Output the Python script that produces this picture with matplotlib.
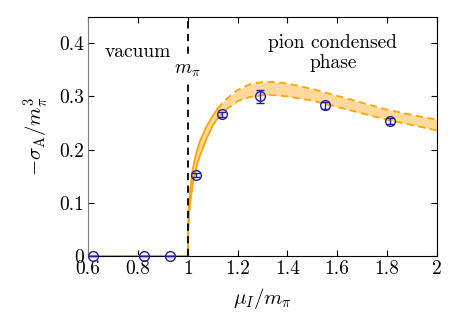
import matplotlib
matplotlib.use("Agg")
import matplotlib.pyplot as plt
import numpy as np

plt.rcParams['font.family'] = 'serif'
plt.rcParams['font.serif'] = ['cmr10']
plt.rcParams['mathtext.fontset'] = 'cm'
plt.rcParams['axes.formatter.use_mathtext'] = True

# lattice data points
mu_pts = [0.62, 0.825, 0.93, 1.035, 1.137, 1.29, 1.55, 1.81]
sig_pts = [0.0, 0.0, 0.0, 0.152, 0.266, 0.300, 0.283, 0.254]
err_pts = [0.0, 0.0, 0.0, 0.004, 0.005, 0.012, 0.006, 0.005]

# band (chiral perturbation theory)
mu_band = [1.0, 1.002, 1.005, 1.01, 1.02, 1.035, 1.05, 1.075, 1.1, 1.12, 1.15, 1.2, 1.25,
           1.3, 1.35, 1.4, 1.5, 1.6, 1.7, 1.8, 1.9, 2.0]
band_hi = [0.0, 0.06, 0.095, 0.125, 0.163, 0.195, 0.217, 0.243, 0.263, 0.277, 0.293, 0.312, 0.323,
           0.327, 0.327, 0.324, 0.314, 0.301, 0.288, 0.275, 0.265, 0.256]
band_lo = [0.0, 0.045, 0.075, 0.10, 0.135, 0.168, 0.190, 0.220, 0.245, 0.259, 0.274, 0.291, 0.299,
           0.302, 0.302, 0.300, 0.292, 0.280, 0.268, 0.256, 0.246, 0.236]

mu_vac = [0.6, 1.0]
sig_vac = [0.0, 0.0]

orange = '#FFA500'
fig = plt.figure(figsize=(4.64, 3.31), dpi=100)
ax = fig.add_axes([0.1897, 0.2266, 0.7521, 0.7234])

mb = np.array(mu_band); hi = np.array(band_hi); lo = np.array(band_lo)
ax.fill_between(mb, lo, hi, color='#FFD99C', lw=0, zorder=1)
split = 1.12
ms = mb <= split
md = mb >= split
for arr in (hi, lo):
    ax.plot(mb[ms], arr[ms], color=orange, lw=1.3, zorder=2)
    ax.plot(mb[md], arr[md], color=orange, lw=1.3, ls=(0, (4, 2.5)), zorder=2)
ax.plot(mu_vac, sig_vac, color=orange, lw=1.5, zorder=2)

ax.axvline(1.0, color='black', lw=1.3, ls=(0, (4, 3)), zorder=3)

ax.errorbar(mu_pts, sig_pts, yerr=err_pts, fmt='o', mfc='none', mec='#2020A0',
            ecolor='#2020A0', ms=7, mew=1.0, elinewidth=1.0, capsize=3, zorder=4,
            clip_on=False)

ax.set_xlim(0.6, 2.0)
ax.set_ylim(0, 0.45)
ax.set_xticks([0.6, 0.8, 1.0, 1.2, 1.4, 1.6, 1.8, 2.0])
ax.set_xticklabels(['0.6', '0.8', '1', '1.2', '1.4', '1.6', '1.8', '2'])
ax.set_yticks([0, 0.1, 0.2, 0.3, 0.4])
ax.set_yticklabels(['0', '0.1', '0.2', '0.3', '0.4'])
ax.tick_params(direction='in', top=True, right=True, length=4, labelsize=14, pad=3)
ax.spines['left'].set_color('#808080')

ax.set_xlabel(r'$\mu_I/m_\pi$', fontsize=15, labelpad=6)
ax.set_ylabel(r'$-\sigma_{\rm A}/m_\pi^3$', fontsize=15, labelpad=6)

ax.text(0.80, 0.383, 'vacuum', fontsize=14, ha='center', va='center')
ax.text(1.0, 0.350, r'$m_\pi$', fontsize=14, ha='center', va='center', zorder=5,
        bbox=dict(facecolor='white', edgecolor='none', pad=1.0))
ax.text(1.582, 0.400, 'pion condensed', fontsize=14, ha='center', va='center')
ax.text(1.582, 0.363, 'phase', fontsize=14, ha='center', va='center')

fig.savefig('out.png', dpi=100)
